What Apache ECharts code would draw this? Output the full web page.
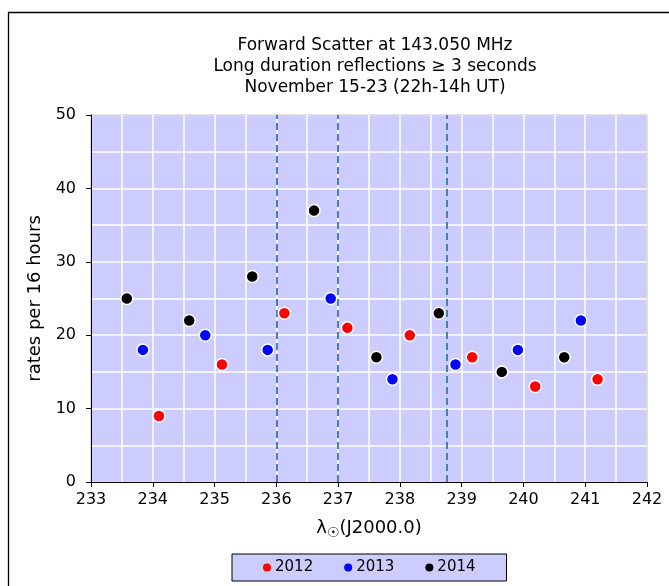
<!DOCTYPE html>
<html>
<head>
<meta charset="utf-8">
<script src="https://cdn.jsdelivr.net/npm/echarts@6/dist/echarts.min.js"></script>
<style>html,body{margin:0;padding:0;background:#fff}#c{width:669px;height:586px}</style>
</head>
<body>
<div id="c"></div>
<script>
const titleLines = ["Forward Scatter at 143.050 MHz", "Long duration reflections \u2265 3 seconds", "November 15-23 (22h-14h UT)"];
const yAxisName = "rates per 16 hours";
const years = ["2012", "2013", "2014"];
const colors = ["#ff0000", "#0000ff", "#000000"];
const x2012 = [234.10, 235.12, 236.13, 237.15, 238.16, 239.17, 240.19, 241.20];
const y2012 = [9, 16, 23, 21, 20, 17, 13, 14];
const x2013 = [233.84, 234.85, 235.86, 236.88, 237.88, 238.90, 239.91, 240.93];
const y2013 = [18, 20, 18, 25, 14, 16, 18, 22];
const x2014 = [233.58, 234.59, 235.61, 236.61, 237.62, 238.63, 239.65, 240.66];
const y2014 = [25, 22, 28, 37, 17, 23, 15, 17];
const vlines = [236.0, 237.0, 238.76];
const xRange = [233, 242];
const yRange = [0, 50];

const FONT = "DejaVu Sans";
const pairs = (xs, ys) => xs.map((x, i) => [x, ys[i]]);
const seriesData = [pairs(x2012, y2012), pairs(x2013, y2013), pairs(x2014, y2014)];

const chart = echarts.init(document.getElementById('c'), null, {renderer: 'canvas'});
const series = years.map((yr, i) => ({
  name: yr,
  type: 'scatter',
  data: seriesData[i],
  symbol: 'circle',
  symbolSize: 12,
  itemStyle: {color: colors[i], opacity: 1, borderColor: '#ffffff', borderWidth: 1.5},
  z: 5
}));
series.push({
  type: 'line',
  data: [],
  silent: true,
  markLine: {
    silent: true,
    symbol: ['none', 'none'],
    label: {show: false},
    lineStyle: {color: '#4a7ebb', type: [7, 4], width: 2, opacity: 1},
    data: vlines.map(v => ({xAxis: v}))
  },
  z: 3
});

chart.setOption({
  animation: false,
  backgroundColor: '#ffffff',
  textStyle: {fontFamily: FONT},
  title: {
    text: titleLines.join('\n'),
    left: 370,
    top: 30,
    textAlign: 'center',
    textStyle: {fontFamily: FONT, fontSize: 17, fontWeight: 'normal', color: '#000', lineHeight: 21}
  },
  graphic: [{
    type: 'rect',
    left: 6, top: 10,
    shape: {width: 720, height: 700},
    style: {fill: 'none', stroke: '#000', lineWidth: 1.3},
    silent: true, z: -1
  }],
  legend: {
    data: years,
    left: 232, top: 554,
    orient: 'horizontal',
    backgroundColor: '#ccccff',
    borderColor: '#000',
    borderWidth: 1,
    padding: [6, 31, 6, 31],
    itemGap: 31,
    itemWidth: 8, itemHeight: 8,
    icon: 'circle',
    itemStyle: {borderWidth: 0, opacity: 1},
    textStyle: {fontFamily: FONT, fontSize: 15, color: '#000', padding: [0, 0, 0, -1]}
  },
  grid: {left: 91, right: 22, top: 115, bottom: 104, show: true, backgroundColor: '#ccccff', borderColor: '#000', borderWidth: 1},
  xAxis: {
    type: 'value',
    min: xRange[0], max: xRange[1], interval: 1,
    name: '{a|\u03bb}{b|\u2609}{a|(J2000.0)}',
    nameLocation: 'middle',
    nameGap: 34,
    nameTextStyle: {
      rich: {
        a: {fontFamily: FONT, fontSize: 18, color: '#000'},
        b: {fontFamily: FONT, fontSize: 14, color: '#000', padding: [10, 0, 0, 0]}
      }
    },
    axisLine: {show: true, onZero: false, lineStyle: {color: '#000', width: 1}},
    axisTick: {show: true, inside: false, length: 5, lineStyle: {color: '#000'}},
    axisLabel: {fontFamily: FONT, fontSize: 16, color: '#000', margin: 10},
    splitLine: {show: true, lineStyle: {color: '#ffffff', width: 1.5}},
    minorTick: {show: false, splitNumber: 2},
    minorSplitLine: {show: true, lineStyle: {color: '#ffffff', width: 1.5}}
  },
  yAxis: {
    type: 'value',
    min: yRange[0], max: yRange[1], interval: 10,
    name: yAxisName,
    nameLocation: 'middle',
    nameRotate: 90,
    nameGap: 45,
    nameTextStyle: {fontFamily: FONT, fontSize: 18, color: '#000'},
    axisLine: {show: true, onZero: false, lineStyle: {color: '#000', width: 1}},
    axisTick: {show: true, inside: false, length: 5, lineStyle: {color: '#000'}},
    axisLabel: {fontFamily: FONT, fontSize: 16, color: '#000', margin: 15},
    splitLine: {show: true, lineStyle: {color: '#ffffff', width: 1.5}},
    minorTick: {show: false, splitNumber: 2},
    minorSplitLine: {show: true, lineStyle: {color: '#ffffff', width: 1.5}}
  },
  series: series
});
</script>
</body>
</html>
